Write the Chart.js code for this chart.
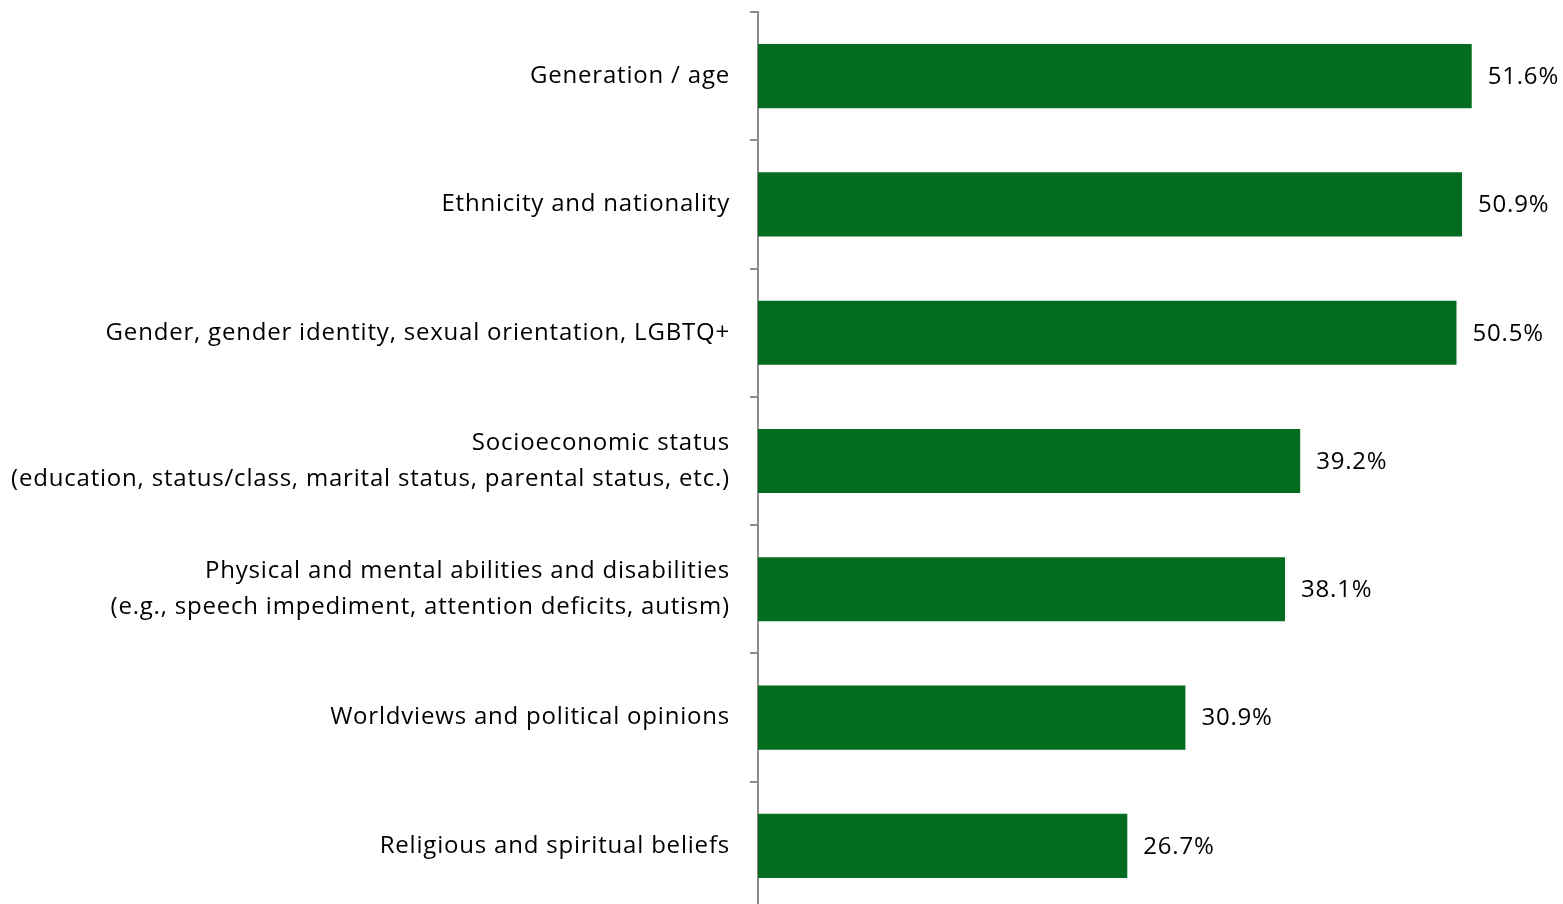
<!DOCTYPE html>
<html>
<head>
<meta charset="utf-8">
<script src="https://cdn.jsdelivr.net/npm/chart.js@4/dist/chart.umd.min.js"></script>
<style>
  html, body { margin: 0; padding: 0; background: #fff; overflow: hidden; }
  #wrap { width: 1563px; height: 910px; position: relative; }
</style>
</head>
<body>
<div id="wrap"><canvas id="chart" width="1563" height="910"></canvas></div>
<script>
// categories, top to bottom
var categories = [
    'Generation / age',
    'Ethnicity and nationality',
    'Gender, gender identity, sexual orientation, LGBTQ+',
    ['Socioeconomic status', '(education, status/class, marital status, parental status, etc.)'],
    ['Physical and mental abilities and disabilities', '(e.g., speech impediment, attention deficits, autism)'],
    'Worldviews and political opinions',
    'Religious and spiritual beliefs'
];
var shares = [51.6, 50.9, 50.5, 39.2, 38.1, 30.9, 26.7];

var fontFamily = '"Open Sans", sans-serif';

// the source text is set a little loose
var spacing = {
    id: 'spacing',
    beforeDraw: function (chart) {
        chart.ctx.letterSpacing = '0.8px';
    }
};

// value labels at the end of each bar
var valueLabels = {
    id: 'valueLabels',
    afterDatasetsDraw: function (chart) {
        var ctx = chart.ctx;
        var meta = chart.getDatasetMeta(0);
        ctx.save();
        ctx.font = '24px ' + fontFamily;
        ctx.fillStyle = '#000';
        ctx.textAlign = 'left';
        ctx.textBaseline = 'middle';
        meta.data.forEach(function (bar, i) {
            ctx.fillText(shares[i].toFixed(1) + '%', bar.x + 16, bar.y + 1);
        });
        ctx.restore();
    }
};

new Chart(document.getElementById('chart').getContext('2d'), {
    type: 'bar',
    data: {
        labels: categories,
        datasets: [{
            data: shares,
            backgroundColor: '#036C1F',
            borderWidth: 0,
            barPercentage: 0.5,
            categoryPercentage: 1
        }]
    },
    options: {
        indexAxis: 'y',
        responsive: false,
        animation: false,
        layout: { padding: { top: 12, right: 0, bottom: 0, left: 0 } },
        plugins: {
            legend: { display: false },
            tooltip: { enabled: false }
        },
        scales: {
            x: {
                display: false,
                min: 0,
                max: 58.2
            },
            y: {
                offset: true,
                afterFit: function (scale) {
                    scale.width = 758;
                    scale.paddingTop = 0;
                    scale.paddingBottom = 0;
                },
                border: { display: true, color: '#8c8c8c', width: 2 },
                grid: {
                    offset: true,
                    drawOnChartArea: false,
                    drawTicks: true,
                    tickLength: 8,
                    color: '#8c8c8c',
                    lineWidth: 2
                },
                ticks: {
                    padding: 20,
                    color: '#000',
                    font: { family: fontFamily, size: 24, lineHeight: 1.5 }
                }
            }
        }
    },
    plugins: [spacing, valueLabels]
});
</script>
</body>
</html>
